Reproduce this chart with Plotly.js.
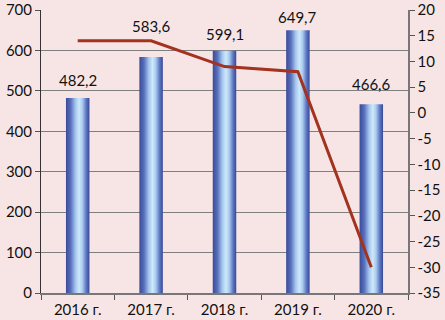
<!DOCTYPE html>
<html>
<head>
<meta charset="utf-8">
<script src="https://cdn.plot.ly/plotly-3.0.1.min.js"></script>
<style>
html,body{margin:0;padding:0;background:#f7e5e5;}
#chart{width:445px;height:320px;}
</style>
</head>
<body>
<div id="chart"></div>
<script>
var categories = ['2016 г.', '2017 г.', '2018 г.', '2019 г.', '2020 г.'];
var barValues = [482.2, 583.6, 599.1, 649.7, 466.6];
var barLabels = ['482,2', '583,6', '599,1', '649,7', '466,6'];
var lineValues = [14, 14, 9, 8, -30];
var rightTickVals = [20, 15, 10, 5, 0, -5, -10, -15, -20, -25, -30, -35];
var rightTickText = ['20', '15', '10', '5', '0', '-5', '-10', '-15', '-20', '-25', '-30', '-35'];

var labelShift = [18, 31, 17, 13, 20];

var font = {family: 'Lato, "Liberation Sans", sans-serif', size: 15, color: '#111'};

var traces = [
  {
    type: 'bar', x: categories, y: barValues, width: 0.32,
    marker: {color: '#7d93d2', line: {width: 0}},
    hoverinfo: 'none', yaxis: 'y'
  },
  {
    type: 'scatter', mode: 'lines', x: categories, y: lineValues,
    line: {color: '#a3321f', width: 3}, yaxis: 'y2', hoverinfo: 'none'
  }
];

var annotations = categories.map(function (c, i) {
  return {x: c, y: barValues[i], xref: 'x', yref: 'y', text: barLabels[i],
    showarrow: false, yshift: labelShift[i], font: font};
});

var layout = {
  width: 445, height: 320,
  margin: {l: 41, r: 37, t: 10, b: 27},
  paper_bgcolor: '#f7e5e5', plot_bgcolor: '#f7e5e5',
  showlegend: false,
  font: font,
  xaxis: {
    type: 'category', tickson: 'boundaries', ticks: 'outside', ticklen: 5,
    tickcolor: '#555', showline: true, linecolor: '#777', linewidth: 1.5,
    showgrid: false, tickfont: font, fixedrange: true, ticklabelstandoff: 2
  },
  yaxis: {
    range: [0, 700], dtick: 100, ticks: 'outside', ticklen: 5, tickcolor: '#555',
    showline: true, linecolor: '#333', linewidth: 1, showgrid: true,
    gridcolor: '#7f7f7f', gridwidth: 1, zeroline: false, tickfont: font,
    ticklabeloverflow: 'allow'
  },
  yaxis2: {
    overlaying: 'y', side: 'right', range: [-35, 20],
    tickvals: rightTickVals, ticktext: rightTickText,
    ticks: 'outside', ticklen: 5, tickcolor: '#555', showline: true,
    linecolor: '#777', linewidth: 1.5, showgrid: false, zeroline: false, tickfont: font,
    ticklabeloverflow: 'allow'
  },
  annotations: annotations
};

Plotly.newPlot('chart', traces, layout, {displayModeBar: false, staticPlot: true}).then(function (gd) {
  var ns = 'http://www.w3.org/2000/svg';
  var svg = gd.querySelector('svg.main-svg');
  var defs = svg.querySelector('defs');
  var grad = document.createElementNS(ns, 'linearGradient');
  grad.setAttribute('id', 'barGrad');
  grad.setAttribute('x1', '0'); grad.setAttribute('x2', '1');
  grad.setAttribute('y1', '0'); grad.setAttribute('y2', '0');
  var stops = [[0, '#3a4a9a'], [0.2, '#5870bc'], [0.4, '#a4c4ec'], [0.56, '#cde9fa'],
               [0.7, '#abcaf0'], [0.86, '#5f78c2'], [1, '#384896']];
  stops.forEach(function (s) {
    var st = document.createElementNS(ns, 'stop');
    st.setAttribute('offset', s[0]);
    st.setAttribute('stop-color', s[1]);
    grad.appendChild(st);
  });
  defs.appendChild(grad);
  gd.querySelectorAll('.bars .point path').forEach(function (p) {
    p.style.fill = 'url(#barGrad)';
  });
});
</script>
</body>
</html>
